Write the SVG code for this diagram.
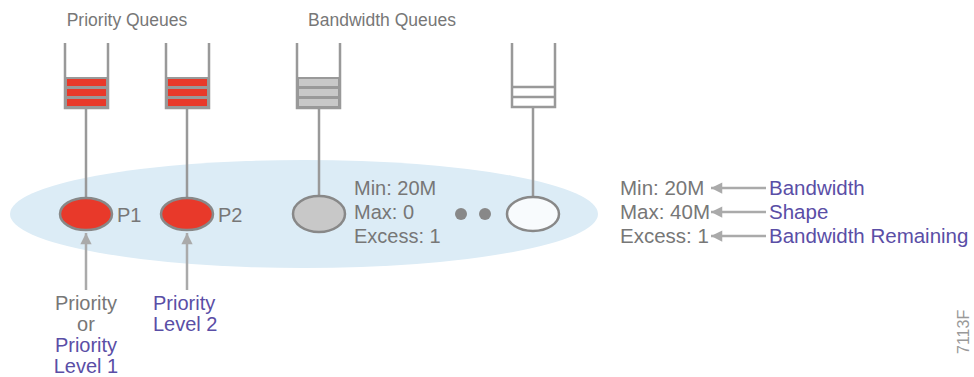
<svg xmlns="http://www.w3.org/2000/svg" width="974" height="377" viewBox="0 0 974 377">
<defs>
<style>
text{font-family:"Liberation Sans",Arial,sans-serif;font-size:20px;fill:#777}
.t{font-size:17.5px}
.lg{font-size:20.5px}
.p{fill:#5a4ea6}
.wall{stroke:#999;stroke-width:2.5;fill:none}
.stem{stroke:#999;stroke-width:2.5;fill:none}
.arr{stroke:#aaa;stroke-width:2.5;fill:none}
.node{stroke:#888;stroke-width:2.5}
</style>
<marker id="ah" viewBox="0 0 10 10" refX="10" refY="5" markerWidth="5" markerHeight="4.5" orient="auto" markerUnits="strokeWidth">
<path d="M0,0L10,5L0,10z" fill="#aaa"/>
</marker>
</defs>
<rect width="974" height="377" fill="#fff"/>
<ellipse cx="304" cy="214" rx="294" ry="54" fill="#dcecf6"/>
<text class="t" x="127" y="26" text-anchor="middle">Priority Queues</text>
<text class="t" x="382" y="26" text-anchor="middle">Bandwidth Queues</text>
<g id="connectors">
<line class="stem" x1="86" y1="108" x2="86" y2="198"/>
<line class="stem" x1="187" y1="108" x2="187" y2="198"/>
<line class="stem" x1="319" y1="108" x2="319" y2="196"/>
<line class="stem" x1="533" y1="108" x2="533" y2="196"/>
<line class="arr" x1="86" y1="290" x2="86" y2="233" marker-end="url(#ah)"/>
<line class="arr" x1="187" y1="290" x2="187" y2="233" marker-end="url(#ah)"/>
<line class="arr" x1="766" y1="188" x2="711" y2="188" marker-end="url(#ah)"/>
<line class="arr" x1="766" y1="212" x2="711" y2="212" marker-end="url(#ah)"/>
<line class="arr" x1="766" y1="236" x2="711" y2="236" marker-end="url(#ah)"/>
</g>
<g id="queue1">
<rect x="65" y="77" width="43" height="31" fill="#999"/>
<rect x="67" y="79" width="39" height="7" fill="#e8392a"/>
<rect x="67" y="89" width="39" height="7" fill="#e8392a"/>
<rect x="67" y="99" width="39" height="7" fill="#e8392a"/>
<path class="wall" d="M65,43V108H108V43"/>
</g>
<g id="queue2">
<rect x="166" y="77" width="43" height="31" fill="#999"/>
<rect x="168" y="79" width="39" height="7" fill="#e8392a"/>
<rect x="168" y="89" width="39" height="7" fill="#e8392a"/>
<rect x="168" y="99" width="39" height="7" fill="#e8392a"/>
<path class="wall" d="M166,43V108H209V43"/>
</g>
<g id="queue3">
<rect x="297" y="77" width="43" height="31" fill="#999"/>
<rect x="299" y="79" width="39" height="7" fill="#c8c8c8"/>
<rect x="299" y="89" width="39" height="7" fill="#c8c8c8"/>
<rect x="299" y="99" width="39" height="7" fill="#c8c8c8"/>
<path class="wall" d="M297,43V108H340V43"/>
</g>
<g id="queue4">
<path class="wall" d="M512,43V107H555V43M512,87H555M512,97H555"/>
</g>
<g id="p1">
<ellipse class="node" cx="86" cy="214" rx="26" ry="16" fill="#e8392a"/>
<text x="117" y="222">P1</text>
</g>
<g id="p2">
<ellipse class="node" cx="187" cy="214" rx="26" ry="16" fill="#e8392a"/>
<text x="218" y="222">P2</text>
</g>
<g id="b1">
<ellipse class="node" cx="319" cy="214" rx="26" ry="18" fill="#c8c8c8"/>
<text x="354" y="195">Min: 20M</text>
<text x="354" y="219">Max: 0</text>
<text x="354" y="243">Excess: 1</text>
</g>
<g id="dots">
<circle cx="461" cy="214" r="6" fill="#888"/>
<circle cx="485" cy="214" r="6" fill="#888"/>
</g>
<g id="b2">
<ellipse class="node" cx="533" cy="214" rx="26" ry="17" fill="#f8fbfd"/>
</g>
<g id="label1">
<text x="86" y="310" text-anchor="middle">Priority</text>
<text x="86" y="331" text-anchor="middle">or</text>
<text class="p" x="86" y="352" text-anchor="middle">Priority</text>
<text class="p" x="86" y="373" text-anchor="middle">Level 1</text>
</g>
<g id="label2">
<text class="p" x="153" y="310">Priority</text>
<text class="p" x="153" y="331">Level 2</text>
</g>
<g id="legend">
<text class="lg" x="620" y="195">Min: 20M</text>
<text class="lg" x="620" y="219">Max: 40M</text>
<text class="lg" x="620" y="243">Excess: 1</text>
<text class="p lg" x="769" y="195">Bandwidth</text>
<text class="p lg" x="769" y="219">Shape</text>
<text class="p lg" x="769" y="243">Bandwidth Remaining</text>
</g>
<text x="969" y="354" transform="rotate(-90 969 354)" style="font-size:16px;fill:#999">7113F</text>
</svg>
